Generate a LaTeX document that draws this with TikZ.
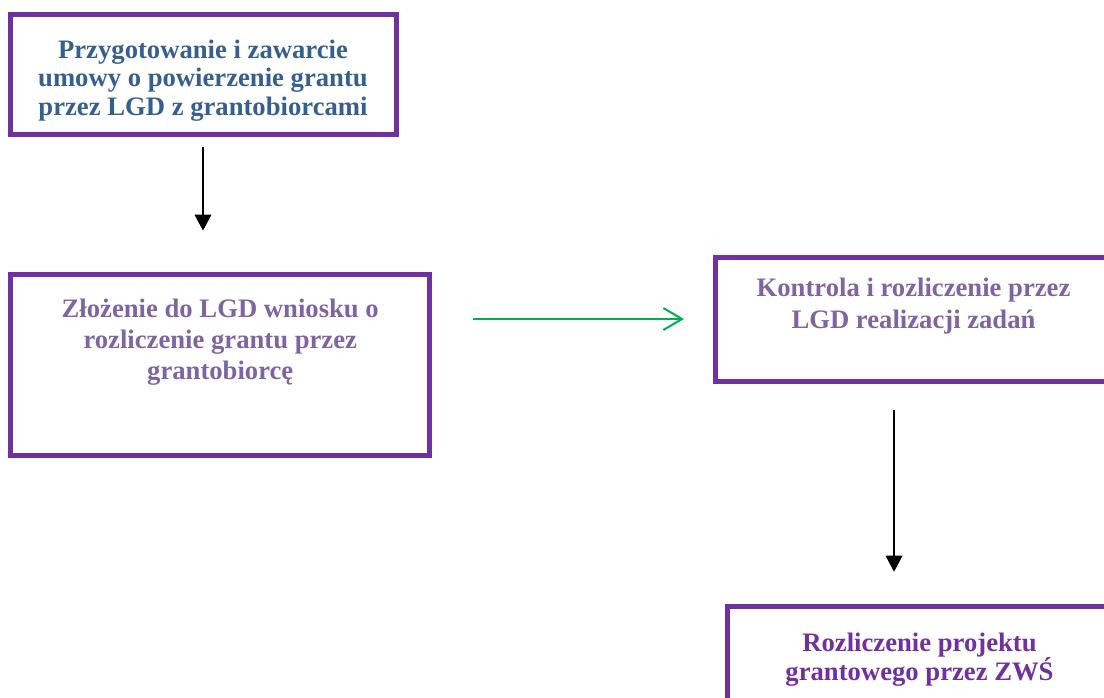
\documentclass[tikz,border=0pt]{standalone}
\usepackage{fontspec}
\setmainfont{Liberation Serif}
\usetikzlibrary{arrows.meta,positioning}

\definecolor{ramka}{HTML}{7030A0}
\definecolor{niebieski}{HTML}{365F91}
\definecolor{fiolet}{HTML}{8064A2}
\definecolor{zielony}{HTML}{00B050}

\begin{document}
\begin{tikzpicture}[x=0.75pt, y=-0.75pt,
  ramka/.style={draw=ramka, line width=3.75pt, outer sep=0pt, inner sep=0pt},
  tekst/.style={font=\fontsize{20}{#1}\selectfont\bfseries, align=center, inner sep=0pt},
  tekst/.default=22pt,
  strzalka/.style={-{Triangle[length=12pt,width=12.5pt]}, line width=1.1pt}]

\useasboundingbox (0,0) rectangle (1104,697);

\node[ramka, minimum width=289.5pt, minimum height=90pt] (b1) at (203,74) {};
\node[tekst=21.5pt, text=niebieski, below=19pt of b1.north] (t1)
  {Przygotowanie i zawarcie\\umowy o powierzenie grantu\\przez LGD z grantobiorcami};

\node[ramka, minimum width=314.6pt, minimum height=135.4pt] (b2) at (220.25,364.75) {};
\node[tekst=23.3pt, text=fiolet, below=18pt of b2.north] (t2)
  {Złożenie do LGD wniosku o\\rozliczenie grantu przez\\grantobiorcę};

\node[ramka, minimum width=297.75pt, minimum height=93pt] (b3) at (913.5,319) {};
\node[tekst=24pt, text=fiolet, below=15.3pt of b3.north] (t3)
  {Kontrola i rozliczenie przez\\LGD realizacji zadań};

\node[ramka, minimum width=288.75pt, minimum height=76.5pt] (b4) at (919.5,657) {};
\node[tekst=22pt, text=ramka, below=19.7pt of b4.north] (t4)
  {Rozliczenie projektu\\grantowego przez ZWŚ};

\draw[strzalka, shorten <=9.5pt, shorten >=32.9pt] (b1.south) -- (b1.south |- b2.north);

\draw[zielony, line width=1.5pt, -{Straight Barb[length=14pt,width=16.5pt]},
  shorten <=32.25pt, shorten >=23.25pt] (b3.west -| b2.east) -- (b3.west);

\coordinate (k) at ([xshift=-14.6pt]b3.south);
\draw[strzalka, shorten <=21.75pt, shorten >=25.7pt] (k) -- (k |- b4.north);

\end{tikzpicture}
\end{document}
